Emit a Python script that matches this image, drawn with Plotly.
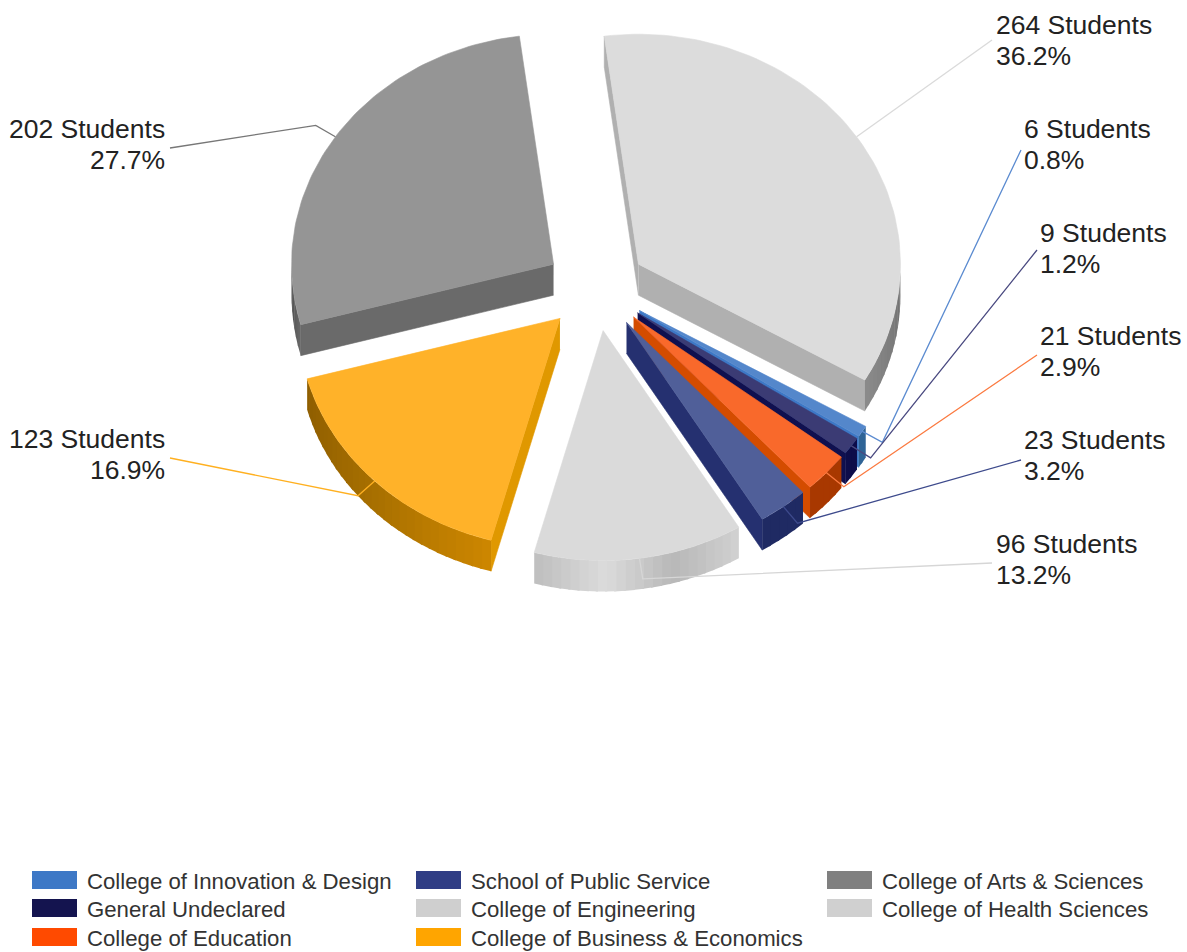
import numpy as np
import plotly.graph_objects as go

# ---- data, clockwise from the top ----
categories = ["College of Health Sciences", "College of Innovation & Design", "General Undeclared",
              "College of Education", "School of Public Service", "College of Engineering",
              "College of Business & Economics", "College of Arts & Sciences"]
students = [264, 6, 9, 21, 23, 96, 123, 202]
percent_labels = ["36.2%", "0.8%", "1.2%", "2.9%", "3.2%", "13.2%", "16.9%", "27.7%"]

top_colors = ["#dcdcdc", "#5487cb", "#3b3b74", "#f9692b", "#505f99", "#dadada", "#ffb229", "#959595"]
edge_colors = ["#b0b0b0", "#3d78c6", "#10104f", "#d44c00", "#253070", "#c8c8c8", "#e09800", "#6a6a6a"]
# shading of the curved wall, in clockwise order
rim_stops = [["#6e6e6e", "#8a8a8a"], ["#2f6496", "#2f6496"], ["#0d0d4a", "#0d0d4a"], ["#a83800", "#a83800"],
             ["#1f2a63", "#1f2a63"], ["#d0d0d0", "#b8b8b8", "#dcdcdc", "#c0c0c0"], ["#cc8600", "#a87000", "#8f5e00"],
             ["#666666", "#4a4a4a"]]
leader_colors = ["#dadada", "#5b8bd0", "#4a4a80", "#fb7a40", "#3d4a8c", "#d6d6d6", "#ffb020", "#777777"]

# legend order, column by column
legend_columns = [
    ["College of Innovation & Design", "General Undeclared", "College of Education"],
    ["School of Public Service", "College of Engineering", "College of Business & Economics"],
    ["College of Arts & Sciences", "College of Health Sciences"],
]
legend_colors = {"College of Innovation & Design": "#3d78c6", "General Undeclared": "#14144f",
                 "College of Education": "#ff4a00", "School of Public Service": "#2f3d85",
                 "College of Engineering": "#cfcfcf", "College of Business & Economics": "#ffa500",
                 "College of Arts & Sciences": "#808080", "College of Health Sciences": "#d0d0d0"}

# ---- layout constants (pixels of the 1187x952 canvas) ----
CX, CY = 596, 288
RX, RY = 262, 230
PULL_X, PULL_Y = 51, 43
DEPTH = 31
ROTATION = -7.5
# label anchor for each slice: x, y of first line, alignment, leader end
label_pos = [(994, 25, "left", (992, 40)), (1022, 129, "left", (1021, 150)),
             (1038, 233, "left", (1037, 250)), (1038, 336, "left", (1037, 355)),
             (1022, 440, "left", (1021, 460)), (994, 544, "left", (992, 563)),
             (167, 439, "right", (170, 458)), (167, 129, "right", (170, 148))]
LINE_GAP = 31
LABEL_SIZE = 26.5
LEGEND_SIZE = 22.2
legend_x = [32, 416, 827]
legend_y = [880, 908, 937]


def hex2rgb(c):
    return np.array([int(c[i:i + 2], 16) for i in (1, 3, 5)], float)


def ramp(stops, t):
    pos = t * (len(stops) - 1)
    j = min(int(pos), len(stops) - 2)
    v = hex2rgb(stops[j]) * (1 - (pos - j)) + hex2rgb(stops[j + 1]) * (pos - j)
    return "rgb(%d,%d,%d)" % tuple(v)


total = sum(students)
sweep = np.array(students) / total * 360
starts = ROTATION + np.concatenate([[0], np.cumsum(sweep)[:-1]])
ends = starts + sweep

fig = go.Figure()


def poly(xs, ys, color, name, width=0.6):
    fig.add_trace(go.Scatter(x=list(xs), y=list(ys), mode="lines", fill="toself", fillcolor=color,
                             line=dict(color=color, width=width), showlegend=False, name=name,
                             hoverinfo="name"))


def rim(tip, deg):
    r = np.radians(deg)
    return tip[0] + RX * np.sin(r), tip[1] - RY * np.cos(r)


tips = []
for s, e in zip(starts, ends):
    m = np.radians((s + e) / 2)
    tips.append((CX + PULL_X * np.sin(m), CY - PULL_Y * np.cos(m)))

# upper slices first, so that lower top faces cover the walls above them
draw_order = [0, 7, 1, 2, 3, 4, 5, 6]
for i in draw_order:
    s, e, tip, name = starts[i], ends[i], tips[i], categories[i]
    sx, sy = rim(tip, s)
    ex, ey = rim(tip, e)
    # straight walls that face the viewer
    if np.sin(np.radians(e)) > 0:
        poly([tip[0], ex, ex, tip[0]], [tip[1], ey, ey + DEPTH, tip[1] + DEPTH], edge_colors[i], name)
    if np.sin(np.radians(s)) < 0:
        poly([tip[0], sx, sx, tip[0]], [tip[1], sy, sy + DEPTH, tip[1] + DEPTH], edge_colors[i], name)
    # curved outer wall, shaded in steps
    a0, a1 = max(s, 90), min(e, 270)
    if a1 > a0:
        n = max(2, int((a1 - a0) / 2))
        steps = np.linspace(a0, a1, n + 1)
        for k in range(n):
            arc = np.linspace(steps[k], min(steps[k + 1] + 0.5, a1), 4)
            ax, ay = rim(tip, arc)
            poly(np.r_[ax, ax[::-1]], np.r_[ay, ay[::-1] + DEPTH], ramp(rim_stops[i], k / max(n - 1, 1)), name, 0)
    # top face
    ax, ay = rim(tip, np.linspace(s, e, 80))
    poly(np.r_[tip[0], ax, tip[0]], np.r_[tip[1], ay, tip[1]], top_colors[i], name)

# leader lines and labels
annotations = []
for i, n in enumerate(students):
    mid = (starts[i] + ends[i]) / 2
    x0, y0 = rim(tips[i], mid)
    r = np.radians(mid)
    elbow = (x0 + 0.09 * RX * np.sin(r), y0 - 0.09 * RY * np.cos(r))
    lx, ly, align, end = label_pos[i]
    pts = [(x0, y0), elbow, end] if i != 0 else [(x0, y0), end]
    fig.add_trace(go.Scatter(x=[p[0] for p in pts], y=[p[1] for p in pts], mode="lines",
                             line=dict(color=leader_colors[i], width=1.3), showlegend=False,
                             hoverinfo="skip"))
    for j, text in enumerate([f"{n} Students", percent_labels[i]]):
        annotations.append(dict(x=lx, y=ly + j * LINE_GAP, xref="x", yref="y", text=text, showarrow=False,
                                xanchor=align, yanchor="middle",
                                font=dict(family="Liberation Sans", size=LABEL_SIZE, color="#222222")))

# legend
shapes = []
for col, names in enumerate(legend_columns):
    for row, name in enumerate(names):
        y = legend_y[row]
        shapes.append(dict(type="rect", x0=legend_x[col], x1=legend_x[col] + 45, y0=y - 9, y1=y + 9,
                           xref="x", yref="y", fillcolor=legend_colors[name], line=dict(width=0)))
        annotations.append(dict(x=legend_x[col] + 53, y=y + 1, xref="x", yref="y", text=name, showarrow=False,
                                xanchor="left", yanchor="middle",
                                font=dict(family="Liberation Sans", size=LEGEND_SIZE, color="#333333")))

fig.update_layout(width=1187, height=952, margin=dict(l=0, r=0, t=0, b=0), paper_bgcolor="white",
                  plot_bgcolor="white", showlegend=False, shapes=shapes, annotations=annotations,
                  xaxis=dict(range=[0, 1187], visible=False, fixedrange=True),
                  yaxis=dict(range=[952, 0], visible=False, fixedrange=True))
fig.write_html("out.html", config={"displayModeBar": False},
               post_script="document.body.style.margin='0';document.body.style.overflow='hidden';")
